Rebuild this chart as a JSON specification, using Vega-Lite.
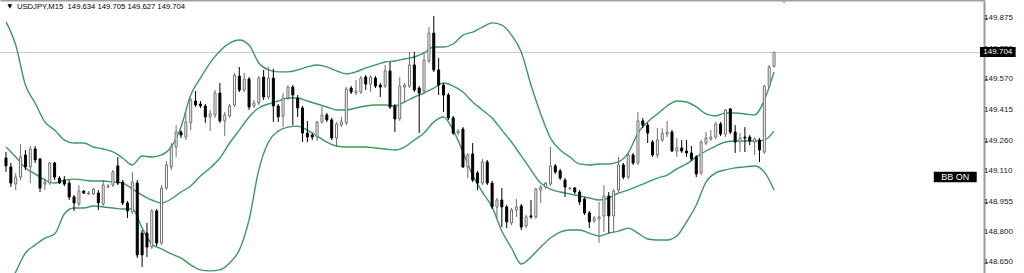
{
"$schema": "https://vega.github.io/schema/vega-lite/v6.json",
"width": 984, "height": 273,
"autosize": {"type": "none"},
"padding": {"left": 0, "top": 0, "right": 40, "bottom": 0},
"background": "#ffffff",
"config": {"view": {"stroke": null}, "font": "Liberation Sans"},
"datasets": {
"candles": [
{"i":0,"o":149.174,"h":149.204,"l":149.104,"c":149.134},
{"i":1,"o":149.129,"h":149.149,"l":149.028,"c":149.048},
{"i":2,"o":149.043,"h":149.099,"l":149.013,"c":149.078},
{"i":3,"o":149.078,"h":149.244,"l":149.063,"c":149.179},
{"i":4,"o":149.189,"h":149.214,"l":149.114,"c":149.129},
{"i":5,"o":149.129,"h":149.234,"l":149.048,"c":149.219},
{"i":6,"o":149.219,"h":149.234,"l":149.149,"c":149.164},
{"i":7,"o":149.169,"h":149.174,"l":149.003,"c":149.023},
{"i":8,"o":149.043,"h":149.073,"l":149.013,"c":149.053},
{"i":9,"o":149.048,"h":149.154,"l":149.038,"c":149.149},
{"i":10,"o":149.149,"h":149.154,"l":149.063,"c":149.078},
{"i":11,"o":149.073,"h":149.083,"l":149.043,"c":149.048},
{"i":12,"o":149.063,"h":149.083,"l":149.033,"c":149.043},
{"i":13,"o":149.048,"h":149.063,"l":148.963,"c":148.978},
{"i":14,"o":148.978,"h":148.988,"l":148.908,"c":148.948},
{"i":15,"o":148.943,"h":149.038,"l":148.933,"c":149.008},
{"i":16,"o":149.008,"h":149.013,"l":148.993,"c":148.998},
{"i":17,"o":148.993,"h":149.008,"l":148.988,"c":148.998},
{"i":18,"o":148.993,"h":149.023,"l":148.988,"c":149.018},
{"i":19,"o":148.998,"h":149.013,"l":148.913,"c":148.948},
{"i":20,"o":148.943,"h":149.063,"l":148.933,"c":149.038},
{"i":21,"o":149.028,"h":149.043,"l":149.023,"c":149.033},
{"i":22,"o":149.038,"h":149.114,"l":149.028,"c":149.104},
{"i":23,"o":149.134,"h":149.179,"l":149.038,"c":149.048},
{"i":24,"o":149.053,"h":149.063,"l":148.938,"c":148.948},
{"i":25,"o":148.948,"h":148.958,"l":148.873,"c":148.908},
{"i":26,"o":148.903,"h":149.104,"l":148.893,"c":149.053},
{"i":27,"o":149.048,"h":149.063,"l":148.672,"c":148.687},
{"i":28,"o":148.797,"h":148.812,"l":148.627,"c":148.687},
{"i":29,"o":148.797,"h":148.848,"l":148.677,"c":148.727},
{"i":30,"o":148.727,"h":148.918,"l":148.717,"c":148.908},
{"i":31,"o":148.908,"h":148.918,"l":148.732,"c":148.747},
{"i":32,"o":148.747,"h":149.038,"l":148.737,"c":149.023},
{"i":33,"o":149.023,"h":149.159,"l":149.013,"c":149.139},
{"i":34,"o":149.129,"h":149.249,"l":149.114,"c":149.229},
{"i":35,"o":149.229,"h":149.339,"l":149.179,"c":149.304},
{"i":36,"o":149.304,"h":149.314,"l":149.274,"c":149.289},
{"i":37,"o":149.279,"h":149.400,"l":149.264,"c":149.355},
{"i":38,"o":149.350,"h":149.475,"l":149.314,"c":149.465},
{"i":39,"o":149.460,"h":149.510,"l":149.430,"c":149.440},
{"i":40,"o":149.445,"h":149.460,"l":149.425,"c":149.435},
{"i":41,"o":149.435,"h":149.445,"l":149.350,"c":149.380},
{"i":42,"o":149.380,"h":149.415,"l":149.309,"c":149.395},
{"i":43,"o":149.390,"h":149.515,"l":149.375,"c":149.500},
{"i":44,"o":149.500,"h":149.550,"l":149.350,"c":149.360},
{"i":45,"o":149.360,"h":149.405,"l":149.284,"c":149.390},
{"i":46,"o":149.385,"h":149.445,"l":149.375,"c":149.435},
{"i":47,"o":149.440,"h":149.601,"l":149.430,"c":149.590},
{"i":48,"o":149.585,"h":149.631,"l":149.505,"c":149.515},
{"i":49,"o":149.515,"h":149.601,"l":149.505,"c":149.570},
{"i":50,"o":149.570,"h":149.580,"l":149.415,"c":149.430},
{"i":51,"o":149.435,"h":149.465,"l":149.425,"c":149.450},
{"i":52,"o":149.450,"h":149.585,"l":149.440,"c":149.575},
{"i":53,"o":149.580,"h":149.616,"l":149.465,"c":149.480},
{"i":54,"o":149.480,"h":149.631,"l":149.470,"c":149.575},
{"i":55,"o":149.575,"h":149.621,"l":149.355,"c":149.435},
{"i":56,"o":149.435,"h":149.445,"l":149.355,"c":149.380},
{"i":57,"o":149.385,"h":149.500,"l":149.329,"c":149.475},
{"i":58,"o":149.475,"h":149.540,"l":149.465,"c":149.530},
{"i":59,"o":149.530,"h":149.540,"l":149.339,"c":149.490},
{"i":60,"o":149.475,"h":149.490,"l":149.380,"c":149.425},
{"i":61,"o":149.425,"h":149.435,"l":149.254,"c":149.299},
{"i":62,"o":149.299,"h":149.360,"l":149.254,"c":149.279},
{"i":63,"o":149.289,"h":149.299,"l":149.264,"c":149.279},
{"i":64,"o":149.279,"h":149.360,"l":149.259,"c":149.355},
{"i":65,"o":149.355,"h":149.430,"l":149.345,"c":149.390},
{"i":66,"o":149.390,"h":149.400,"l":149.355,"c":149.365},
{"i":67,"o":149.365,"h":149.375,"l":149.264,"c":149.274},
{"i":68,"o":149.274,"h":149.355,"l":149.229,"c":149.345},
{"i":69,"o":149.339,"h":149.380,"l":149.329,"c":149.355},
{"i":70,"o":149.350,"h":149.530,"l":149.339,"c":149.520},
{"i":71,"o":149.525,"h":149.535,"l":149.495,"c":149.505},
{"i":72,"o":149.500,"h":149.565,"l":149.490,"c":149.510},
{"i":73,"o":149.505,"h":149.585,"l":149.495,"c":149.575},
{"i":74,"o":149.580,"h":149.590,"l":149.515,"c":149.545},
{"i":75,"o":149.545,"h":149.590,"l":149.505,"c":149.580},
{"i":76,"o":149.575,"h":149.585,"l":149.525,"c":149.535},
{"i":77,"o":149.540,"h":149.550,"l":149.480,"c":149.530},
{"i":78,"o":149.535,"h":149.641,"l":149.525,"c":149.611},
{"i":79,"o":149.611,"h":149.656,"l":149.420,"c":149.430},
{"i":80,"o":149.435,"h":149.445,"l":149.304,"c":149.370},
{"i":81,"o":149.370,"h":149.580,"l":149.360,"c":149.535},
{"i":82,"o":149.530,"h":149.550,"l":149.450,"c":149.540},
{"i":83,"o":149.535,"h":149.706,"l":149.525,"c":149.641},
{"i":84,"o":149.641,"h":149.706,"l":149.505,"c":149.515},
{"i":85,"o":149.525,"h":149.535,"l":149.299,"c":149.500},
{"i":86,"o":149.510,"h":149.706,"l":149.500,"c":149.666},
{"i":87,"o":149.661,"h":149.831,"l":149.651,"c":149.801},
{"i":88,"o":149.801,"h":149.887,"l":149.606,"c":149.616},
{"i":89,"o":149.616,"h":149.676,"l":149.490,"c":149.540},
{"i":90,"o":149.540,"h":149.550,"l":149.405,"c":149.490},
{"i":91,"o":149.490,"h":149.500,"l":149.365,"c":149.375},
{"i":92,"o":149.375,"h":149.385,"l":149.289,"c":149.299},
{"i":93,"o":149.299,"h":149.319,"l":149.289,"c":149.309},
{"i":94,"o":149.319,"h":149.329,"l":149.124,"c":149.129},
{"i":95,"o":149.129,"h":149.199,"l":149.073,"c":149.189},
{"i":96,"o":149.194,"h":149.249,"l":149.053,"c":149.063},
{"i":97,"o":149.099,"h":149.109,"l":149.013,"c":149.048},
{"i":98,"o":149.048,"h":149.169,"l":149.038,"c":149.154},
{"i":99,"o":149.154,"h":149.164,"l":149.038,"c":149.048},
{"i":100,"o":149.048,"h":149.058,"l":148.918,"c":148.928},
{"i":101,"o":148.928,"h":148.973,"l":148.873,"c":148.963},
{"i":102,"o":148.963,"h":149.023,"l":148.827,"c":148.928},
{"i":103,"o":148.928,"h":148.938,"l":148.822,"c":148.853},
{"i":104,"o":148.848,"h":148.923,"l":148.837,"c":148.913},
{"i":105,"o":148.913,"h":148.968,"l":148.878,"c":148.928},
{"i":106,"o":148.933,"h":148.943,"l":148.812,"c":148.827},
{"i":107,"o":148.832,"h":148.888,"l":148.822,"c":148.878},
{"i":108,"o":148.883,"h":148.963,"l":148.868,"c":148.878},
{"i":109,"o":148.878,"h":149.023,"l":148.868,"c":149.018},
{"i":110,"o":149.013,"h":149.038,"l":148.948,"c":149.028},
{"i":111,"o":149.028,"h":149.053,"l":149.018,"c":149.048},
{"i":112,"o":149.043,"h":149.229,"l":149.033,"c":149.134},
{"i":113,"o":149.134,"h":149.144,"l":149.094,"c":149.104},
{"i":114,"o":149.109,"h":149.119,"l":149.063,"c":149.073},
{"i":115,"o":149.063,"h":149.073,"l":148.978,"c":149.028},
{"i":116,"o":149.020,"h":149.028,"l":149.013,"c":149.023},
{"i":117,"o":149.023,"h":149.028,"l":148.993,"c":149.003},
{"i":118,"o":149.003,"h":149.013,"l":148.938,"c":148.953},
{"i":119,"o":148.968,"h":148.978,"l":148.888,"c":148.898},
{"i":120,"o":148.898,"h":148.908,"l":148.822,"c":148.853},
{"i":121,"o":148.858,"h":148.883,"l":148.848,"c":148.873},
{"i":122,"o":148.868,"h":148.953,"l":148.747,"c":148.878},
{"i":123,"o":148.883,"h":149.038,"l":148.802,"c":148.983},
{"i":124,"o":148.983,"h":149.003,"l":148.797,"c":148.883},
{"i":125,"o":148.883,"h":149.018,"l":148.802,"c":149.008},
{"i":126,"o":149.013,"h":149.179,"l":149.003,"c":149.139},
{"i":127,"o":149.139,"h":149.149,"l":149.068,"c":149.078},
{"i":128,"o":149.078,"h":149.199,"l":149.068,"c":149.189},
{"i":129,"o":149.189,"h":149.199,"l":149.139,"c":149.149},
{"i":130,"o":149.149,"h":149.405,"l":149.139,"c":149.360},
{"i":131,"o":149.360,"h":149.375,"l":149.324,"c":149.339},
{"i":132,"o":149.339,"h":149.350,"l":149.249,"c":149.299},
{"i":133,"o":149.254,"h":149.264,"l":149.179,"c":149.189},
{"i":134,"o":149.189,"h":149.324,"l":149.174,"c":149.264},
{"i":135,"o":149.264,"h":149.324,"l":149.254,"c":149.299},
{"i":136,"o":149.294,"h":149.360,"l":149.279,"c":149.304},
{"i":137,"o":149.304,"h":149.314,"l":149.204,"c":149.209},
{"i":138,"o":149.209,"h":149.274,"l":149.179,"c":149.224},
{"i":139,"o":149.224,"h":149.264,"l":149.199,"c":149.209},
{"i":140,"o":149.209,"h":149.264,"l":149.179,"c":149.199},
{"i":141,"o":149.199,"h":149.234,"l":149.159,"c":149.169},
{"i":142,"o":149.179,"h":149.189,"l":149.078,"c":149.094},
{"i":143,"o":149.099,"h":149.264,"l":149.088,"c":149.254},
{"i":144,"o":149.249,"h":149.304,"l":149.239,"c":149.274},
{"i":145,"o":149.269,"h":149.314,"l":149.259,"c":149.279},
{"i":146,"o":149.279,"h":149.355,"l":149.269,"c":149.345},
{"i":147,"o":149.345,"h":149.355,"l":149.284,"c":149.294},
{"i":148,"o":149.294,"h":149.420,"l":149.279,"c":149.415},
{"i":149,"o":149.420,"h":149.425,"l":149.294,"c":149.304},
{"i":150,"o":149.304,"h":149.339,"l":149.199,"c":149.254},
{"i":151,"o":149.254,"h":149.299,"l":149.204,"c":149.274},
{"i":152,"o":149.279,"h":149.329,"l":149.204,"c":149.274},
{"i":153,"o":149.279,"h":149.289,"l":149.239,"c":149.259},
{"i":154,"o":149.254,"h":149.279,"l":149.189,"c":149.269},
{"i":155,"o":149.264,"h":149.274,"l":149.154,"c":149.214},
{"i":156,"o":149.204,"h":149.540,"l":149.194,"c":149.535},
{"i":157,"o":149.535,"h":149.641,"l":149.525,"c":149.631},
{"i":158,"o":149.634,"h":149.705,"l":149.627,"c":149.704}
],
"bands": [
{"i":0,"u":149.857,"m":149.229,"l":148.501},
{"i":2,"u":149.741,"m":149.179,"l":148.602},
{"i":4,"u":149.540,"m":149.124,"l":148.697},
{"i":6,"u":149.450,"m":149.094,"l":148.737},
{"i":8,"u":149.355,"m":149.063,"l":148.772},
{"i":10,"u":149.314,"m":149.048,"l":148.792},
{"i":12,"u":149.264,"m":149.063,"l":148.893},
{"i":14,"u":149.249,"m":149.068,"l":148.923},
{"i":16,"u":149.249,"m":149.063,"l":148.923},
{"i":18,"u":149.229,"m":149.058,"l":148.933},
{"i":20,"u":149.219,"m":149.058,"l":148.928},
{"i":22,"u":149.204,"m":149.053,"l":148.923},
{"i":24,"u":149.174,"m":149.048,"l":148.918},
{"i":26,"u":149.139,"m":149.018,"l":148.918},
{"i":28,"u":149.184,"m":148.988,"l":148.822},
{"i":30,"u":149.179,"m":148.963,"l":148.742},
{"i":32,"u":149.189,"m":148.948,"l":148.717},
{"i":34,"u":149.229,"m":148.968,"l":148.692},
{"i":36,"u":149.329,"m":149.003,"l":148.672},
{"i":38,"u":149.490,"m":149.033,"l":148.637},
{"i":40,"u":149.575,"m":149.083,"l":148.612},
{"i":42,"u":149.651,"m":149.124,"l":148.607},
{"i":44,"u":149.711,"m":149.174,"l":148.612},
{"i":46,"u":149.751,"m":149.249,"l":148.647},
{"i":48,"u":149.766,"m":149.314,"l":148.712},
{"i":50,"u":149.741,"m":149.380,"l":148.863},
{"i":52,"u":149.651,"m":149.425,"l":149.114},
{"i":54,"u":149.616,"m":149.445,"l":149.254},
{"i":56,"u":149.606,"m":149.460,"l":149.309},
{"i":58,"u":149.606,"m":149.475,"l":149.329},
{"i":60,"u":149.616,"m":149.475,"l":149.334},
{"i":62,"u":149.631,"m":149.460,"l":149.314},
{"i":64,"u":149.641,"m":149.445,"l":149.284},
{"i":66,"u":149.631,"m":149.430,"l":149.254},
{"i":68,"u":149.611,"m":149.415,"l":149.234},
{"i":70,"u":149.596,"m":149.415,"l":149.229},
{"i":72,"u":149.606,"m":149.425,"l":149.229},
{"i":74,"u":149.626,"m":149.435,"l":149.229},
{"i":76,"u":149.641,"m":149.440,"l":149.224},
{"i":78,"u":149.656,"m":149.440,"l":149.219},
{"i":80,"u":149.661,"m":149.435,"l":149.214},
{"i":82,"u":149.671,"m":149.455,"l":149.229},
{"i":84,"u":149.681,"m":149.480,"l":149.264},
{"i":86,"u":149.701,"m":149.500,"l":149.299},
{"i":88,"u":149.731,"m":149.525,"l":149.355},
{"i":90,"u":149.731,"m":149.550,"l":149.380},
{"i":92,"u":149.746,"m":149.535,"l":149.314},
{"i":94,"u":149.791,"m":149.505,"l":149.204},
{"i":96,"u":149.806,"m":149.455,"l":149.088},
{"i":98,"u":149.831,"m":149.415,"l":149.003},
{"i":100,"u":149.852,"m":149.375,"l":148.928},
{"i":102,"u":149.841,"m":149.314,"l":148.807},
{"i":104,"u":149.791,"m":149.254,"l":148.722},
{"i":106,"u":149.706,"m":149.184,"l":148.642},
{"i":108,"u":149.540,"m":149.114,"l":148.677},
{"i":110,"u":149.395,"m":149.048,"l":148.727},
{"i":112,"u":149.274,"m":149.018,"l":148.772},
{"i":114,"u":149.214,"m":149.003,"l":148.802},
{"i":116,"u":149.179,"m":148.993,"l":148.812},
{"i":118,"u":149.144,"m":148.983,"l":148.812},
{"i":120,"u":149.139,"m":148.973,"l":148.797},
{"i":122,"u":149.144,"m":148.963,"l":148.782},
{"i":124,"u":149.144,"m":148.973,"l":148.797},
{"i":126,"u":149.154,"m":148.998,"l":148.807},
{"i":128,"u":149.199,"m":149.013,"l":148.822},
{"i":130,"u":149.299,"m":149.033,"l":148.797},
{"i":132,"u":149.355,"m":149.053,"l":148.767},
{"i":134,"u":149.395,"m":149.073,"l":148.762},
{"i":136,"u":149.435,"m":149.088,"l":148.762},
{"i":138,"u":149.460,"m":149.119,"l":148.782},
{"i":140,"u":149.455,"m":149.144,"l":148.853},
{"i":142,"u":149.430,"m":149.179,"l":148.938},
{"i":144,"u":149.395,"m":149.209,"l":149.053},
{"i":146,"u":149.385,"m":149.234,"l":149.099},
{"i":148,"u":149.400,"m":149.254,"l":149.114},
{"i":150,"u":149.400,"m":149.259,"l":149.124},
{"i":152,"u":149.395,"m":149.259,"l":149.129},
{"i":154,"u":149.390,"m":149.259,"l":149.134},
{"i":156,"u":149.465,"m":149.264,"l":149.104},
{"i":158,"u":149.606,"m":149.309,"l":149.013}
],
"ticks": [
{"p":148.65},{"p":148.8},{"p":148.955},{"p":149.11},{"p":149.26},{"p":149.415},{"p":149.57},{"p":149.72},{"p":149.875}
]
},
"layer": [
{
"data": {"values": [{}]},
"mark": {"type": "rule", "color": "#c8c8c8", "strokeWidth": 1},
"encoding": {
"y": {"datum": 149.704, "type": "quantitative", "scale": {"domain": [148.5965, 149.967], "nice": false, "zero": false},
"axis": {"orient": "right", "values": [148.65, 148.8, 148.955, 149.11, 149.26, 149.415, 149.57, 149.72, 149.875], "labels": false, "grid": false, "title": null, "domainColor": "#9a9a9a", "domainWidth": 2, "tickColor": "#444444", "tickSize": 3}}
}
},
{
"data": {"name": "bands"},
"mark": {"type": "line", "color": "#3a9a5e", "strokeWidth": 1.4, "interpolate": "monotone", "clip": true},
"encoding": {
"x": {"field": "i", "type": "quantitative", "scale": {"domain": [-0.204, 200.16], "nice": false, "zero": false}, "axis": {"orient": "top", "labels": false, "ticks": false, "grid": false, "title": null, "domainColor": "#a0a0a0", "domainWidth": 2}},
"y": {"field": "u", "type": "quantitative", "scale": {"domain": [148.5965, 149.967], "nice": false, "zero": false}}
}
},
{
"data": {"name": "bands"},
"mark": {"type": "line", "color": "#3a9a5e", "strokeWidth": 1.4, "interpolate": "monotone", "clip": true},
"encoding": {
"x": {"field": "i", "type": "quantitative", "scale": {"domain": [-0.204, 200.16], "nice": false, "zero": false}},
"y": {"field": "m", "type": "quantitative", "scale": {"domain": [148.5965, 149.967], "nice": false, "zero": false}}
}
},
{
"data": {"name": "bands"},
"mark": {"type": "line", "color": "#3a9a5e", "strokeWidth": 1.4, "interpolate": "monotone", "clip": true},
"encoding": {
"x": {"field": "i", "type": "quantitative", "scale": {"domain": [-0.204, 200.16], "nice": false, "zero": false}},
"y": {"field": "l", "type": "quantitative", "scale": {"domain": [148.5965, 149.967], "nice": false, "zero": false}}
}
},
{
"data": {"name": "candles"},
"mark": {"type": "rule", "strokeWidth": 1, "clip": true},
"encoding": {
"x": {"field": "i", "type": "quantitative", "scale": {"domain": [-0.204, 200.16], "nice": false, "zero": false}},
"y": {"field": "l", "type": "quantitative", "scale": {"domain": [148.5965, 149.967], "nice": false, "zero": false}},
"y2": {"field": "h"},
"color": {"condition": {"test": "datum.c >= datum.o", "value": "#6e6e6e"}, "value": "#000000"}
}
},
{
"data": {"name": "candles"},
"mark": {"type": "bar", "size": 2, "strokeWidth": 1, "clip": true},
"encoding": {
"x": {"field": "i", "type": "quantitative", "scale": {"domain": [-0.204, 200.16], "nice": false, "zero": false}},
"y": {"field": "o", "type": "quantitative", "scale": {"domain": [148.5965, 149.967], "nice": false, "zero": false}},
"y2": {"field": "c"},
"fill": {"condition": {"test": "datum.c >= datum.o", "value": "#ffffff"}, "value": "#000000"},
"stroke": {"condition": {"test": "datum.c >= datum.o", "value": "#6e6e6e"}, "value": "#000000"}
}
},
{
"data": {"name": "ticks"},
"mark": {"type": "text", "font": "Liberation Sans", "fontSize": 8, "color": "#1a1a1a", "align": "left", "baseline": "middle", "dx": 5},
"encoding": {
"x": {"datum": 200.16, "type": "quantitative", "scale": {"domain": [-0.204, 200.16], "nice": false, "zero": false}},
"y": {"field": "p", "type": "quantitative", "scale": {"domain": [148.5965, 149.967], "nice": false, "zero": false}},
"text": {"field": "p", "type": "quantitative", "format": ".3f"}
}
},
{
"data": {"values": [{}]},
"mark": {"type": "text", "font": "DejaVu Sans", "fontSize": 6, "color": "#000000", "align": "center", "baseline": "middle"},
"encoding": {
"x": {"datum": 0.81, "type": "quantitative", "scale": {"domain": [-0.204, 200.16], "nice": false, "zero": false}},
"y": {"datum": 149.935, "type": "quantitative", "scale": {"domain": [148.5965, 149.967], "nice": false, "zero": false}},
"text": {"value": "▼"}
}
},
{
"data": {"values": [{}]},
"mark": {"type": "text", "font": "Liberation Sans", "fontSize": 7.7, "color": "#000000", "align": "left", "baseline": "middle"},
"encoding": {
"x": {"datum": 2.24, "type": "quantitative", "scale": {"domain": [-0.204, 200.16], "nice": false, "zero": false}},
"y": {"datum": 149.932, "type": "quantitative", "scale": {"domain": [148.5965, 149.967], "nice": false, "zero": false}},
"text": {"value": "USDJPY,M15\u00a0\u00a0149.634 149.705 149.627 149.704"}
}
},
{
"data": {"values": [{}]},
"mark": {"type": "point", "shape": "triangle-down", "size": 22, "filled": true, "color": "#a8a8a8", "opacity": 1},
"encoding": {
"x": {"datum": 160.05, "type": "quantitative", "scale": {"domain": [-0.204, 200.16], "nice": false, "zero": false}},
"y": {"datum": 149.958, "type": "quantitative", "scale": {"domain": [148.5965, 149.967], "nice": false, "zero": false}}
}
},
{
"data": {"values": [{}]},
"mark": {"type": "rect", "color": "#000000"},
"encoding": {
"x": {"datum": 190.86, "type": "quantitative", "scale": {"domain": [-0.204, 200.16], "nice": false, "zero": false}},
"x2": {"datum": 199.69},
"y": {"datum": 149.105, "type": "quantitative", "scale": {"domain": [148.5965, 149.967], "nice": false, "zero": false}},
"y2": {"datum": 149.052}
}
},
{
"data": {"values": [{}]},
"mark": {"type": "text", "font": "Liberation Sans", "fontSize": 9, "color": "#ffffff", "align": "center", "baseline": "middle"},
"encoding": {
"x": {"datum": 195.28, "type": "quantitative", "scale": {"domain": [-0.204, 200.16], "nice": false, "zero": false}},
"y": {"datum": 149.078, "type": "quantitative", "scale": {"domain": [148.5965, 149.967], "nice": false, "zero": false}},
"text": {"value": "BB ON"}
}
},
{
"data": {"values": [{}]},
"mark": {"type": "rect", "color": "#000000"},
"encoding": {
"x": {"datum": 200.36, "type": "quantitative", "scale": {"domain": [-0.204, 200.16], "nice": false, "zero": false}},
"x2": {"datum": 207.7},
"y": {"datum": 149.731, "type": "quantitative", "scale": {"domain": [148.5965, 149.967], "nice": false, "zero": false}},
"y2": {"datum": 149.681}
}
},
{
"data": {"values": [{}]},
"mark": {"type": "text", "font": "Liberation Sans", "fontSize": 8, "color": "#ffffff", "align": "center", "baseline": "middle"},
"encoding": {
"x": {"datum": 204.03, "type": "quantitative", "scale": {"domain": [-0.204, 200.16], "nice": false, "zero": false}},
"y": {"datum": 149.704, "type": "quantitative", "scale": {"domain": [148.5965, 149.967], "nice": false, "zero": false}},
"text": {"value": "149.704"}
}
}
]
}
